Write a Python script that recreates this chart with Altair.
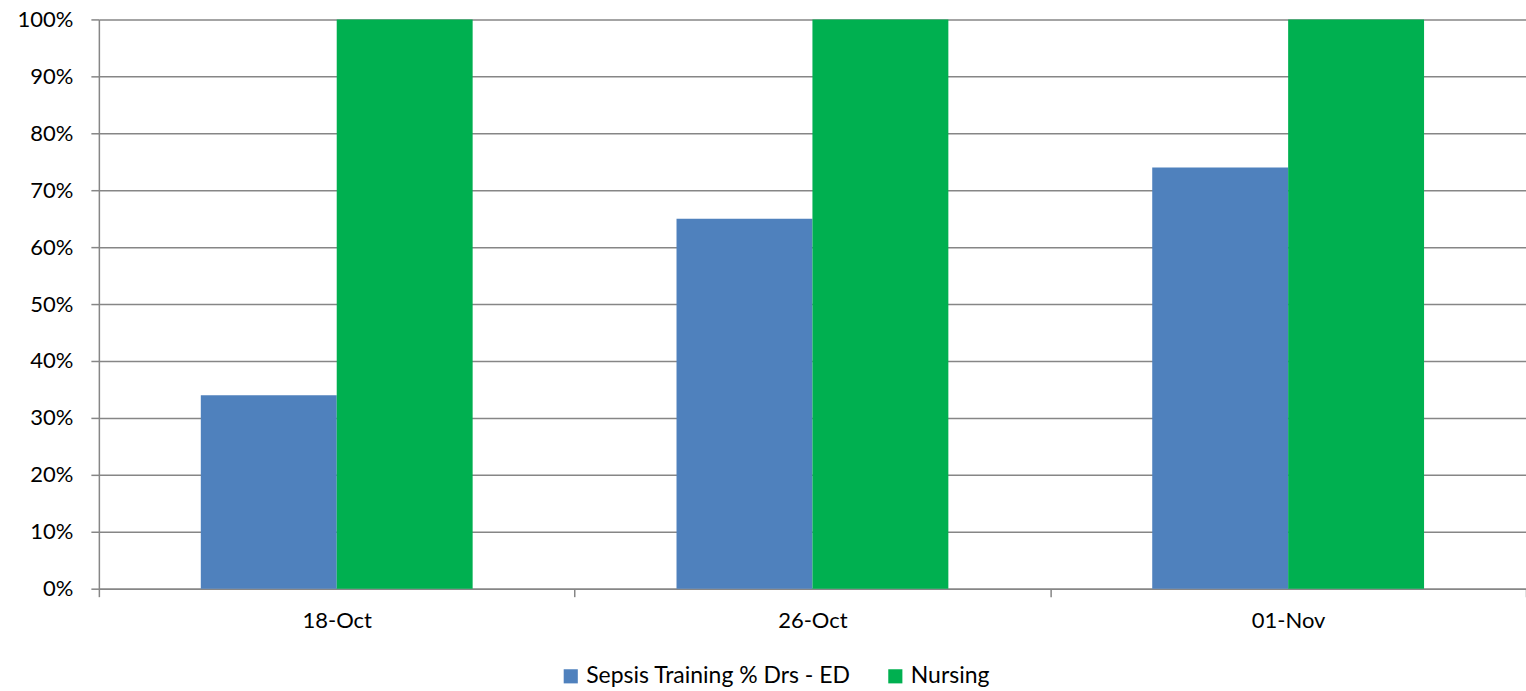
import altair as alt
import pandas as pd

categories = ["18-Oct", "26-Oct", "01-Nov"]
series_names = ["Sepsis Training % Drs - ED", "Nursing"]
drs_values = [0.34, 0.65, 0.74]
nursing_values = [1.00, 1.00, 1.00]
colors = ["#4F81BD", "#00B050"]

rows = []
for c, d, n in zip(categories, drs_values, nursing_values):
    rows.append({"date": c, "series": series_names[0], "value": d})
    rows.append({"date": c, "series": series_names[1], "value": n})
df = pd.DataFrame(rows)

FONT = "Lato"

chart = alt.Chart(df).mark_bar().encode(
    x=alt.X("date:N", sort=categories, title=None,
            scale=alt.Scale(paddingInner=0, paddingOuter=0),
            axis=alt.Axis(labelAngle=0, tickBand="extent", tickSize=8,
                          labelPadding=14, grid=False)),
    xOffset=alt.XOffset("series:N", sort=series_names,
                        scale=alt.Scale(paddingInner=0, paddingOuter=0.75)),
    y=alt.Y("value:Q", title=None,
            scale=alt.Scale(domain=[0, 1], nice=False),
            axis=alt.Axis(format=".0%", values=[i / 10 for i in range(11)],
                          tickSize=8, labelPadding=18, grid=True)),
    color=alt.Color("series:N", sort=series_names,
                    scale=alt.Scale(domain=series_names, range=colors),
                    legend=alt.Legend(title=None, orient="none", direction="horizontal",
                                      legendX=461, legendY=646,
                                      symbolType="square", symbolSize=200,
                                      symbolStrokeWidth=0, columnPadding=33,
                                      labelFontSize=23, labelFont=FONT, labelLimit=0,
                                      labelColor="#000000", labelOffset=4)),
).properties(
    width=1429, height=570,
    padding={"left": 99, "top": 19, "right": 0, "bottom": 102},
    autosize=alt.AutoSizeParams(type="none"),
    background="white",
).configure_axis(
    labelFont=FONT, labelFontSize=22, labelColor="#000000",
    domainColor="#868686", tickColor="#868686", gridColor="#868686",
    domainWidth=1.5, tickWidth=1.5, gridWidth=1.5,
).configure_view(stroke=None)

chart.save("out.html", embed_options={"renderer": "svg", "actions": False})
